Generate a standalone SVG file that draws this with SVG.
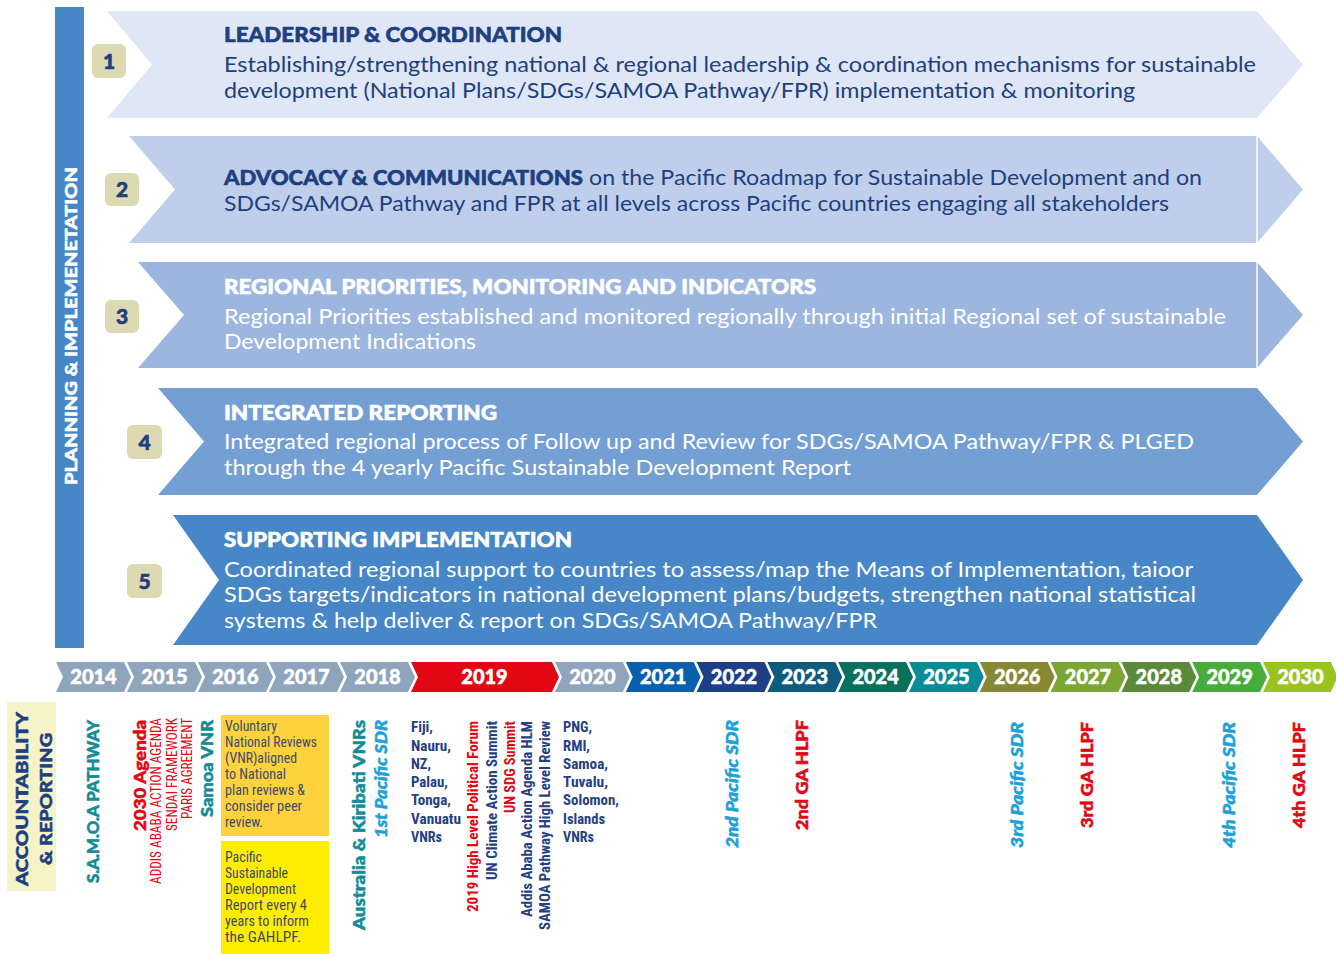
<svg xmlns="http://www.w3.org/2000/svg" width="1336" height="954" viewBox="0 0 1336 954">
<style>
.t{font-family:Lato,"Noto Sans",sans-serif;font-size:21px}
.b{font-weight:900;stroke-width:0.6px;stroke-linejoin:round}
.navy{fill:#1e3f80}
.b.navy,.v.navy{stroke:#1e3f80}
.w{fill:#ffffff}
.b.w,.v.w{stroke:#ffffff}
.yr{font-family:Lato,"Noto Sans",sans-serif;font-weight:900;font-size:20px;fill:#ffffff;stroke:#ffffff;stroke-width:0.5px;text-anchor:middle}
.badge{fill:#dcd9b3}
.num{font-family:Lato,"Noto Sans",sans-serif;font-weight:900;font-size:21px;fill:#1e3f80;stroke:#1e3f80;stroke-width:0.6px;text-anchor:middle}
.v{font-family:Lato,"Noto Sans",sans-serif;font-weight:900;font-size:16px;stroke-width:0.5px;stroke-linejoin:round}
.it{font-style:italic}
.c{font-family:"Liberation Sans Narrow","Roboto Condensed",Roboto,sans-serif;font-size:15px}
.cb{font-family:"Liberation Sans Narrow","Roboto Condensed",Roboto,sans-serif;font-size:15px;font-weight:700}
.red{fill:#e30613}
.v.red{stroke:#e30613}
.teal{fill:#128d97}
.v.teal{stroke:#128d97}
.lb{fill:#1ca1db}
.v.lb{stroke:#1ca1db}
.dn{fill:#253f84}
.bx{fill:#3d4b6b}
.div{stroke:#ffffff;stroke-width:1.5}
</style>

<g id="planning-bar">
<rect x="55" y="7" width="29" height="641" fill="#4787c7"/>
<text class="v w" font-size="18.5" transform="translate(77,326) rotate(-90)" text-anchor="middle" textLength="318" lengthAdjust="spacingAndGlyphs">PLANNING &amp; IMPLEMENETATION</text>
</g>

<g id="arrow1">
<polygon points="107,11 1257,11 1303,64.5 1257,118 107,118 152,64.5" fill="#dfe6f5"/>
<rect class="badge" x="92" y="44" width="34" height="34" rx="6"/>
<text class="num" x="109" y="68.5">1</text>
<text class="t b navy" x="224" y="42" textLength="338" lengthAdjust="spacingAndGlyphs">LEADERSHIP &amp; COORDINATION</text>
<text class="t navy" x="224" y="72" textLength="1032" lengthAdjust="spacingAndGlyphs">Establishing/strengthening national &amp; regional leadership &amp; coordination mechanisms for sustainable</text>
<text class="t navy" x="224" y="98" textLength="911" lengthAdjust="spacingAndGlyphs">development (National Plans/SDGs/SAMOA Pathway/FPR) implementation &amp; monitoring</text>
</g>

<g id="arrow2">
<polygon points="129,136 1257,136 1303,189.5 1257,243 129,243 175,189.5" fill="#bfcfeb"/>
<line class="div" x1="1257" y1="136" x2="1257" y2="243"/>
<rect class="badge" x="105" y="173" width="34" height="33" rx="6"/>
<text class="num" x="122" y="197">2</text>
<text class="t b navy" x="224" y="185" textLength="359" lengthAdjust="spacingAndGlyphs">ADVOCACY &amp; COMMUNICATIONS</text>
<text class="t navy" x="589" y="185" textLength="613" lengthAdjust="spacingAndGlyphs">on the Pacific Roadmap for Sustainable Development and on</text>
<text class="t navy" x="224" y="211" textLength="945" lengthAdjust="spacingAndGlyphs">SDGs/SAMOA Pathway and FPR at all levels across Pacific countries engaging all stakeholders</text>
</g>

<g id="arrow3">
<polygon points="138,262 1257,262 1303,315 1257,368 138,368 184,315" fill="#9cb6e0"/>
<line class="div" x1="1257" y1="262" x2="1257" y2="368"/>
<rect class="badge" x="105" y="300" width="34" height="33" rx="6"/>
<text class="num" x="122" y="324">3</text>
<text class="t b w" x="224" y="294" textLength="592" lengthAdjust="spacingAndGlyphs">REGIONAL PRIORITIES, MONITORING AND INDICATORS</text>
<text class="t w" x="224" y="324" textLength="1002" lengthAdjust="spacingAndGlyphs">Regional Priorities established and monitored regionally through initial Regional set of sustainable</text>
<text class="t w" x="224" y="349" textLength="252" lengthAdjust="spacingAndGlyphs">Development Indications</text>
</g>

<g id="arrow4">
<polygon points="158,388 1257,388 1303,441.5 1257,495 158,495 204,441.5" fill="#749fd4"/>
<rect class="badge" x="127" y="425" width="35" height="34" rx="6"/>
<text class="num" x="144.5" y="449.5">4</text>
<text class="t b w" x="224" y="420" textLength="273" lengthAdjust="spacingAndGlyphs">INTEGRATED REPORTING</text>
<text class="t w" x="224" y="449" textLength="970" lengthAdjust="spacingAndGlyphs">Integrated regional process of Follow up and Review for SDGs/SAMOA Pathway/FPR &amp; PLGED</text>
<text class="t w" x="224" y="475" textLength="627" lengthAdjust="spacingAndGlyphs">through the 4 yearly Pacific Sustainable Development Report</text>
</g>

<g id="arrow5">
<polygon points="173,515 1257,515 1303,580 1257,645 173,645 219,580" fill="#4787c8"/>
<rect class="badge" x="127" y="564" width="35" height="34" rx="6"/>
<text class="num" x="144.5" y="588.5">5</text>
<text class="t b w" x="224" y="547" textLength="348" lengthAdjust="spacingAndGlyphs">SUPPORTING IMPLEMENTATION</text>
<text class="t w" x="224" y="577" textLength="969" lengthAdjust="spacingAndGlyphs">Coordinated regional support to countries to assess/map the Means of Implementation, taioor</text>
<text class="t w" x="224" y="602" textLength="972" lengthAdjust="spacingAndGlyphs">SDGs targets/indicators in national development plans/budgets, strengthen national statistical</text>
<text class="t w" x="224" y="628" textLength="653" lengthAdjust="spacingAndGlyphs">systems &amp; help deliver &amp; report on SDGs/SAMOA Pathway/FPR</text>
</g>

<g id="timeline">
<polygon points="56,662 124,662 131,677 124,692 56,692 63,677" fill="#8fa4bd"/>
<polygon points="127,662 195,662 202,677 195,692 127,692 134,677" fill="#8fa4bd"/>
<polygon points="198,662 266,662 273,677 266,692 198,692 205,677" fill="#8fa4bd"/>
<polygon points="269,662 337,662 344,677 337,692 269,692 276,677" fill="#8fa4bd"/>
<polygon points="340,662 408,662 415,677 408,692 340,692 347,677" fill="#8fa4bd"/>
<polygon points="411,662 552,662 559,677 552,692 411,692 418,677" fill="#e30613"/>
<polygon points="555,662 622.8,662 629.8,677 622.8,692 555,692 562,677" fill="#8fa4bd"/>
<polygon points="625.8,662 693.6,662 700.6,677 693.6,692 625.8,692 632.8,677" fill="#0b60ae"/>
<polygon points="696.6,662 764.4,662 771.4,677 764.4,692 696.6,692 703.6,677" fill="#1c3f88"/>
<polygon points="767.4,662 835.2,662 842.2,677 835.2,692 767.4,692 774.4,677" fill="#0d5b7d"/>
<polygon points="838.2,662 906,662 913,677 906,692 838.2,692 845.2,677" fill="#08705d"/>
<polygon points="909,662 976.8,662 983.8,677 976.8,692 909,692 916,677" fill="#088d97"/>
<polygon points="979.8,662 1047.6,662 1054.6,677 1047.6,692 979.8,692 986.8,677" fill="#878832"/>
<polygon points="1050.6,662 1118.4,662 1125.4,677 1118.4,692 1050.6,692 1057.6,677" fill="#7ba634"/>
<polygon points="1121.4,662 1189.2,662 1196.2,677 1189.2,692 1121.4,692 1128.4,677" fill="#5b8b3a"/>
<polygon points="1192.2,662 1260,662 1267,677 1260,692 1192.2,692 1199.2,677" fill="#46ad3b"/>
<polygon points="1263,662 1330.8,662 1337.8,677 1330.8,692 1263,692 1270,677" fill="#9bc320"/>
<text class="yr" x="93.5" y="684">2014</text>
<text class="yr" x="164.5" y="684">2015</text>
<text class="yr" x="235.5" y="684">2016</text>
<text class="yr" x="306.5" y="684">2017</text>
<text class="yr" x="377.5" y="684">2018</text>
<text class="yr" x="484.5" y="684">2019</text>
<text class="yr" x="592.4" y="684">2020</text>
<text class="yr" x="663.2" y="684">2021</text>
<text class="yr" x="734" y="684">2022</text>
<text class="yr" x="804.8" y="684">2023</text>
<text class="yr" x="875.6" y="684">2024</text>
<text class="yr" x="946.4" y="684">2025</text>
<text class="yr" x="1017.2" y="684">2026</text>
<text class="yr" x="1088" y="684">2027</text>
<text class="yr" x="1158.8" y="684">2028</text>
<text class="yr" x="1229.6" y="684">2029</text>
<text class="yr" x="1300.4" y="684">2030</text>
</g>

<g id="accountability">
<rect x="7" y="702" width="49" height="189" fill="#f6f3c8"/>
<text class="v navy" font-size="21" transform="translate(28,799) rotate(-90)" text-anchor="middle" textLength="174" lengthAdjust="spacingAndGlyphs">ACCOUNTABILITY</text>
<text class="v navy" font-size="21" transform="translate(52,799) rotate(-90)" text-anchor="middle" textLength="132" lengthAdjust="spacingAndGlyphs">&amp; REPORTING</text>
</g>

<g id="events-2014-2016">
<text class="v teal" font-size="16.5" transform="translate(99,883) rotate(-90)" textLength="163" lengthAdjust="spacingAndGlyphs">S.A.M.O.A PATHWAY</text>
<text class="v red" font-size="17" transform="translate(146,831) rotate(-90)" textLength="111" lengthAdjust="spacingAndGlyphs">2030 Agenda</text>
<text class="c red" font-size="15" transform="translate(161,884) rotate(-90)" textLength="166" lengthAdjust="spacingAndGlyphs">ADDIS ABABA ACTION AGENDA</text>
<text class="c red" font-size="15" transform="translate(177,831) rotate(-90)" textLength="113" lengthAdjust="spacingAndGlyphs">SENDAI FRAMEWORK</text>
<text class="c red" font-size="15" transform="translate(192,819) rotate(-90)" textLength="101" lengthAdjust="spacingAndGlyphs">PARIS AGREEMENT</text>
<text class="v teal" transform="translate(213,817) rotate(-90)" textLength="97" lengthAdjust="spacingAndGlyphs">Samoa VNR</text>
</g>

<g id="vnr-box">
<rect x="221" y="715" width="108" height="121" fill="#fdd23c"/>
<text class="c bx" x="225" y="731" textLength="52" lengthAdjust="spacingAndGlyphs">Voluntary</text>
<text class="c bx" x="225" y="747" textLength="92" lengthAdjust="spacingAndGlyphs">National Reviews</text>
<text class="c bx" x="225" y="763" textLength="72" lengthAdjust="spacingAndGlyphs">(VNR)aligned</text>
<text class="c bx" x="225" y="779" textLength="61" lengthAdjust="spacingAndGlyphs">to National</text>
<text class="c bx" x="225" y="795" textLength="80" lengthAdjust="spacingAndGlyphs">plan reviews &amp;</text>
<text class="c bx" x="225" y="811" textLength="77" lengthAdjust="spacingAndGlyphs">consider peer</text>
<text class="c bx" x="225" y="827" textLength="38" lengthAdjust="spacingAndGlyphs">review.</text>
</g>

<g id="psdr-box">
<rect x="221" y="841" width="108" height="113" fill="#ffed00"/>
<text class="c bx" x="225" y="862" textLength="37" lengthAdjust="spacingAndGlyphs">Pacific</text>
<text class="c bx" x="225" y="878" textLength="63" lengthAdjust="spacingAndGlyphs">Sustainable</text>
<text class="c bx" x="225" y="894" textLength="71" lengthAdjust="spacingAndGlyphs">Development</text>
<text class="c bx" x="225" y="910" textLength="82" lengthAdjust="spacingAndGlyphs">Report every 4</text>
<text class="c bx" x="225" y="926" textLength="84" lengthAdjust="spacingAndGlyphs">years to inform</text>
<text class="c bx" x="225" y="942" textLength="76" lengthAdjust="spacingAndGlyphs">the GAHLPF.</text>
</g>

<g id="events-2018">
<text class="v teal" transform="translate(365,930) rotate(-90)" textLength="210" lengthAdjust="spacingAndGlyphs">Australia &amp; Kiribati VNRs</text>
<text class="v it lb" transform="translate(387,838) rotate(-90)" textLength="118" lengthAdjust="spacingAndGlyphs">1st Pacific SDR</text>
</g>

<g id="events-2019">
<text class="cb dn" x="411" y="732" textLength="22" lengthAdjust="spacingAndGlyphs">Fiji,</text>
<text class="cb dn" x="411" y="750.5" textLength="40" lengthAdjust="spacingAndGlyphs">Nauru,</text>
<text class="cb dn" x="411" y="768.8" textLength="20" lengthAdjust="spacingAndGlyphs">NZ,</text>
<text class="cb dn" x="411" y="787" textLength="37" lengthAdjust="spacingAndGlyphs">Palau,</text>
<text class="cb dn" x="411" y="805.3" textLength="40" lengthAdjust="spacingAndGlyphs">Tonga,</text>
<text class="cb dn" x="411" y="823.6" textLength="50" lengthAdjust="spacingAndGlyphs">Vanuatu</text>
<text class="cb dn" x="411" y="842" textLength="31" lengthAdjust="spacingAndGlyphs">VNRs</text>
<text class="cb red" transform="translate(478,912) rotate(-90)" textLength="191" lengthAdjust="spacingAndGlyphs">2019 High Level Political Forum</text>
<text class="cb dn" transform="translate(497,880) rotate(-90)" textLength="159" lengthAdjust="spacingAndGlyphs">UN Climate Action Summit</text>
<text class="cb red" transform="translate(515,813) rotate(-90)" textLength="92" lengthAdjust="spacingAndGlyphs">UN SDG Summit</text>
<text class="cb dn" transform="translate(532,917) rotate(-90)" textLength="196" lengthAdjust="spacingAndGlyphs">Addis Ababa Action Agenda HLM</text>
<text class="cb dn" transform="translate(550,930) rotate(-90)" textLength="209" lengthAdjust="spacingAndGlyphs">SAMOA Pathway High Level Review</text>
<text class="cb dn" x="563" y="732" textLength="29" lengthAdjust="spacingAndGlyphs">PNG,</text>
<text class="cb dn" x="563" y="750.5" textLength="27" lengthAdjust="spacingAndGlyphs">RMI,</text>
<text class="cb dn" x="563" y="768.8" textLength="45" lengthAdjust="spacingAndGlyphs">Samoa,</text>
<text class="cb dn" x="563" y="787" textLength="45" lengthAdjust="spacingAndGlyphs">Tuvalu,</text>
<text class="cb dn" x="563" y="805.3" textLength="56" lengthAdjust="spacingAndGlyphs">Solomon,</text>
<text class="cb dn" x="563" y="823.6" textLength="42" lengthAdjust="spacingAndGlyphs">Islands</text>
<text class="cb dn" x="563" y="842" textLength="31" lengthAdjust="spacingAndGlyphs">VNRs</text>
</g>

<g id="events-2022-2030">
<text class="v it lb" transform="translate(738,848) rotate(-90)" textLength="128" lengthAdjust="spacingAndGlyphs">2nd Pacific SDR</text>
<text class="v red" transform="translate(808,830) rotate(-90)" textLength="110" lengthAdjust="spacingAndGlyphs">2nd GA HLPF</text>
<text class="v it lb" transform="translate(1023,848) rotate(-90)" textLength="126" lengthAdjust="spacingAndGlyphs">3rd Pacific SDR</text>
<text class="v red" transform="translate(1093,828) rotate(-90)" textLength="106" lengthAdjust="spacingAndGlyphs">3rd GA HLPF</text>
<text class="v it lb" transform="translate(1235,848) rotate(-90)" textLength="126" lengthAdjust="spacingAndGlyphs">4th Pacific SDR</text>
<text class="v red" transform="translate(1305,828) rotate(-90)" textLength="106" lengthAdjust="spacingAndGlyphs">4th GA HLPF</text>
</g>
</svg>
